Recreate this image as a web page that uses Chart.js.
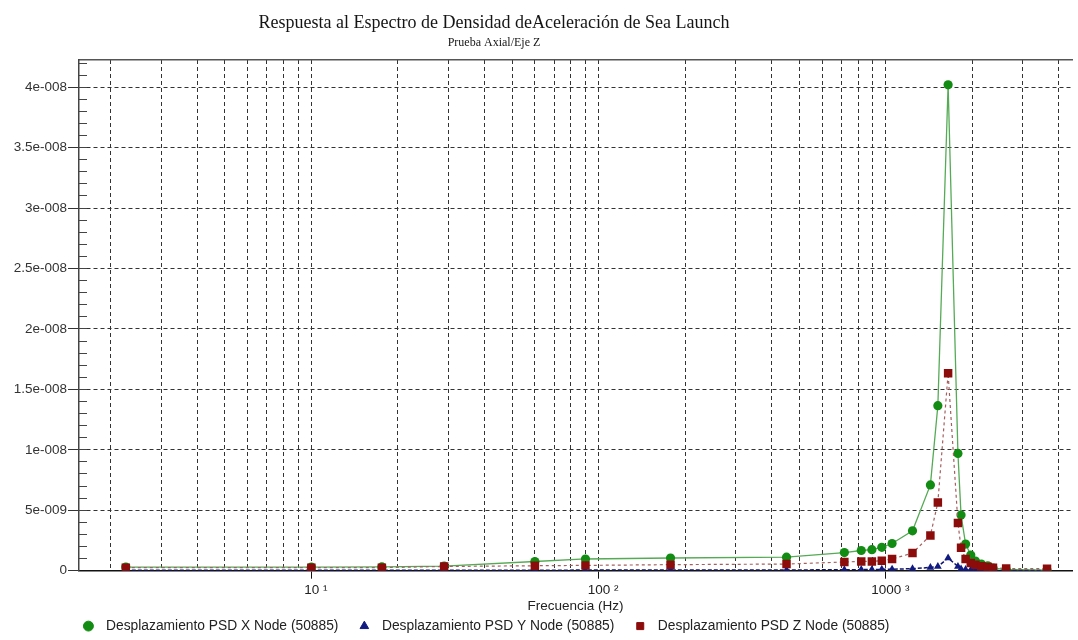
<!DOCTYPE html>
<html><head><meta charset="utf-8">
<script src="https://cdn.jsdelivr.net/npm/chart.js@4.4.1/dist/chart.umd.min.js"></script>
<style>html,body{margin:0;padding:0;background:#fff;} #wrap{width:1078px;height:640px;position:relative;}</style>
</head><body><div id="wrap"><canvas id="c"></canvas></div>
<script>
// ---- data ----
const frequencies = [2.26, 10, 17.6, 29, 60, 90, 178, 451, 717, 821, 894, 968, 1051, 1238, 1429, 1517, 1647, 1782, 1827, 1895, 1975, 2050, 2150, 2264, 2360, 2623, 3640];
const psdX = [3e-10, 3e-10, 3.1e-10, 3.8e-10, 7.6e-10, 9.7e-10, 1.05e-9, 1.12e-9, 1.5e-9, 1.67e-9, 1.74e-9, 1.93e-9, 2.25e-9, 3.3e-9, 7.1e-9, 1.365e-8, 4.02e-8, 9.7e-9, 4.6e-9, 2.2e-9, 1.3e-9, 8e-10, 5.5e-10, 4e-10, 2.2e-10, 1e-10, 4e-11];
const psdY = [3e-11, 3e-11, 3e-11, 3e-11, 4e-11, 5e-11, 5e-11, 6e-11, 8e-11, 9e-11, 1e-10, 1.1e-10, 1.2e-10, 1.7e-10, 2.7e-10, 3.4e-10, 1.05e-9, 3.5e-10, 1.5e-10, 9e-11, 6e-11, 5e-11, 4e-11, 3e-11, 3e-11, 2e-11, 1e-11];
const psdZ = [2.5e-10, 2.5e-10, 2.5e-10, 3.5e-10, 4.1e-10, 4.4e-10, 5e-10, 5.5e-10, 7.2e-10, 7.7e-10, 7.7e-10, 8.3e-10, 9.7e-10, 1.46e-9, 2.92e-9, 5.64e-9, 1.633e-8, 3.94e-9, 1.89e-9, 9.7e-10, 6.4e-10, 5e-10, 3.6e-10, 3.1e-10, 2.5e-10, 1.8e-10, 1.6e-10];
const seriesNames = ['Desplazamiento PSD X Node (50885)', 'Desplazamiento PSD Y Node (50885)', 'Desplazamiento PSD Z Node (50885)'];

const yTickValues = [0, 5e-9, 1e-8, 1.5e-8, 2e-8, 2.5e-8, 3e-8, 3.5e-8, 4e-8];
const yTickLabels = ['0', '5e-009', '1e-008', '1.5e-008', '2e-008', '2.5e-008', '3e-008', '3.5e-008', '4e-008'];
const xGridValues = [2,3,4,5,6,7,8,9,10,20,30,40,50,60,70,80,90,100,200,300,400,500,600,700,800,900,1000,2000,3000,4000];
const xMajorValues = [10, 100, 1000];
const xMajorLabels = ['10 \u00B9', '100 \u00B2', '1000 \u00B3'];
const yMin = 0, yMax = 4.225e-8, xMin = 1.553, xMax = 4446;

const titleText = 'Respuesta al Espectro de Densidad deAceleraci\u00F3n de Sea Launch';
const subtitleText = 'Prueba Axial/Eje Z';
const xTitleText = 'Frecuencia (Hz)';

// ---- chart ----
const pts = arr => frequencies.map((f, i) => ({x: f, y: arr[i]}));
const SANS = 'Liberation Sans, Arial, sans-serif';
const SERIF = 'Liberation Serif, Times New Roman, serif';

const shiftPlugin = {
  id: 'shiftBoxes',
  afterLayout(chart) {
    chart.boxes.forEach(b => {
      if (b === chart.legend) { b.left = 0; b.right = 971; b.top += 3; b.bottom += 3; }
      else if (!b.axis && b.options && b.options.text !== undefined) { b.left = 0; b.right = 988; }
    });
  }
};

new Chart(document.getElementById('c'), {
  type: 'line',
  data: {
    datasets: [
      { label: seriesNames[0], data: pts(psdX), order: 2,
        borderColor: 'rgb(85,170,85)', borderWidth: 1.3, tension: 0,
        pointStyle: 'circle', pointRadius: 4.6, pointBackgroundColor: 'rgb(18,140,18)', pointBorderColor: 'rgb(18,140,18)', pointBorderWidth: 0 },
      { label: seriesNames[1], data: pts(psdY), order: 1,
        borderColor: 'rgb(15,20,110)', borderWidth: 1.5, borderDash: [4, 2], tension: 0,
        pointStyle: 'triangle', pointRadius: 4.5, pointBackgroundColor: 'rgb(16,26,128)', pointBorderColor: 'rgb(16,26,128)', pointBorderWidth: 0 },
      { label: seriesNames[2], data: pts(psdZ), order: 0,
        borderColor: 'rgb(165,95,95)', borderWidth: 1.2, borderDash: [3, 3], tension: 0,
        pointStyle: 'rect', pointRadius: 6, pointBackgroundColor: 'rgb(140,12,12)', pointBorderColor: 'rgb(140,12,12)', pointBorderWidth: 0 }
    ]
  },
  options: {
    responsive: true, maintainAspectRatio: false, animation: false, devicePixelRatio: 1,
    layout: { padding: { left: 0, right: 0, top: 0, bottom: 0 } },
    plugins: {
      tooltip: { enabled: false },
      title: { display: true, text: titleText, color: '#151515', font: { family: SERIF, size: 18, weight: 'normal' }, padding: { top: 12, bottom: 0 } },
      subtitle: { display: true, text: subtitleText, color: '#151515', font: { family: SERIF, size: 12, weight: 'normal' }, padding: { top: 2, bottom: 10 } },
      legend: {
        display: true, position: 'bottom', align: 'center',
        labels: {
          usePointStyle: true, boxWidth: 14, boxHeight: 7, padding: 19,
          color: '#222', font: { family: SANS, size: 13.8 },
          sort: (a, b) => a.datasetIndex - b.datasetIndex,
          generateLabels: chart => Chart.defaults.plugins.legend.labels.generateLabels(chart).map(l => {
            const ds = chart.data.datasets[l.datasetIndex];
            l.text = ' ' + l.text;
            l.fillStyle = ds.pointBackgroundColor; l.strokeStyle = ds.pointBackgroundColor;
            l.lineWidth = 1; l.lineDash = [];
            return l;
          })
        }
      }
    },
    scales: {
      x: {
        type: 'logarithmic', position: 'bottom', min: xMin, max: xMax,
        afterBuildTicks: ax => { ax.ticks = xGridValues.map(v => ({ value: v, major: xMajorValues.includes(v) })); },
        afterFit: ax => { ax.height = 26.5; },
        ticks: { autoSkip: false, maxRotation: 0, minRotation: 0, padding: 3, labelOffset: 4.5, color: '#222', font: { family: SANS, size: 13.5 },
          callback: v => { const k = xMajorValues.indexOf(v); return k >= 0 ? xMajorLabels[k] : ''; } },
        grid: { color: '#333', lineWidth: 1, tickLength: 8, tickBorderDash: [],
          tickColor: c => (c.tick && c.tick.major) ? '#111' : 'rgba(0,0,0,0)' },
        border: { display: true, color: '#111', width: 1.6, dash: [4, 3] },
        title: { display: true, text: xTitleText, color: '#222', font: { family: SANS, size: 13.5 }, padding: { top: 0, bottom: -16.9 } }
      },
      xTop: {
        type: 'linear', position: 'top', ticks: { display: false }, grid: { display: false, drawTicks: false },
        border: { display: true, color: '#555', width: 1.5 },
        afterFit: ax => { ax.height = 0; }
      },
      y: {
        type: 'linear', position: 'left', weight: 1, min: yMin, max: yMax,
        afterBuildTicks: ax => { ax.ticks = yTickValues.map(v => ({ value: v })); },
        afterFit: ax => { ax.width = 79; },
        ticks: { autoSkip: false, padding: 1, color: '#333', font: { family: SANS, size: 13.5 },
          callback: (v, i) => yTickLabels[i] },
        grid: { lineWidth: 1, tickLength: 11, tickColor: '#333', tickBorderDash: [],
          color: c => (c.tick && c.tick.value === 0) ? 'rgba(0,0,0,0)' : '#333' },
        border: { display: true, color: '#444', width: 1.5, dash: [4, 3] }
      },
      yMinor: {
        type: 'linear', position: 'left', weight: 0, min: yMin, max: yMax,
        afterBuildTicks: ax => { const t = []; for (let k = 0; k * 1e-9 <= yMax; k++) t.push({ value: k * 1e-9 }); ax.ticks = t; },
        afterFit: ax => { ax.width = 0; },
        ticks: { display: false },
        grid: { drawOnChartArea: false, tickLength: -8, tickColor: '#444', tickBorderDash: [], lineWidth: 1 },
        border: { display: false }
      }
    }
  },
  plugins: [shiftPlugin]
});
</script></body></html>
